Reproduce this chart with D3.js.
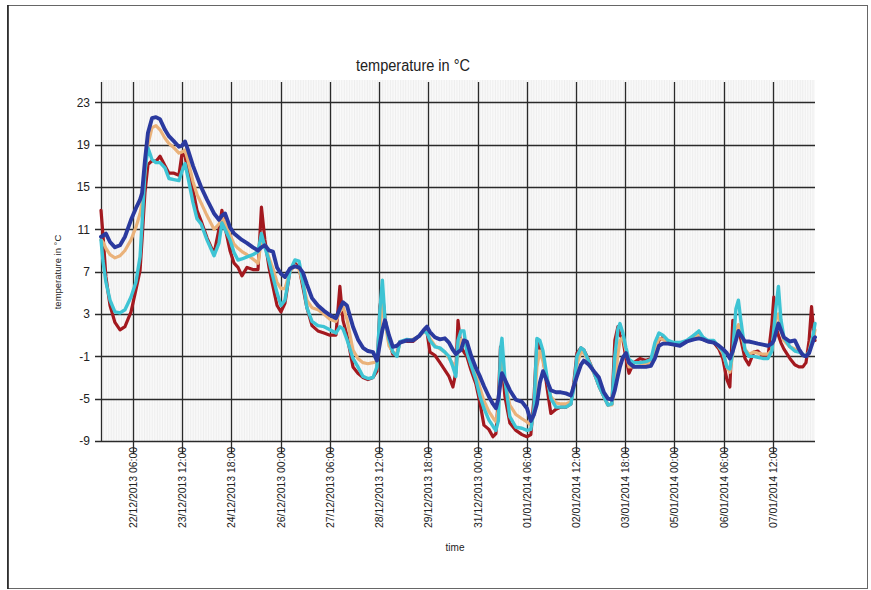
<!DOCTYPE html>
<html>
<head>
<meta charset="utf-8">
<script src="https://cdn.jsdelivr.net/npm/d3@7"></script>
<style>
    body { margin: 0; background: #fff; }
    svg text { font-family: "Liberation Sans Narrow", "Arial Narrow", "Liberation Sans", sans-serif; fill: #222; }
</style>
</head>
<body>
<div id="chart"></div>
<script>
// Time axis: elapsed hours since the first reading
const startTime = "21/12/2013 10:30";
const endHour = 435.2;
const tickLabels = ["22/12/2013 06:00", "23/12/2013 12:00", "24/12/2013 18:00", "26/12/2013 00:00",
    "27/12/2013 06:00", "28/12/2013 12:00", "29/12/2013 18:00", "31/12/2013 00:00",
    "01/01/2014 06:00", "02/01/2014 12:00", "03/01/2014 18:00", "05/01/2014 00:00",
    "06/01/2014 06:00", "07/01/2014 12:00"];
const yTicks = [23, 19, 15, 11, 7, 3, -1, -5, -9];

const hours = [0, 1.2, 3.0, 5.5, 8.5, 11.6, 14.6, 18.3, 21.3, 23.8, 25.0, 26.8, 28.6, 31.1, 33.5, 36.0,
    39.0, 41.4, 44.5, 47.5, 49.4, 51.2, 53.0, 56.1, 58.5, 61.0, 64.6, 68.9, 71.9, 73.7, 75.6, 78.6,
    81.1, 83.5, 85.9, 89.0, 92.6, 95.7, 97.8, 99.9, 102.4, 104.8, 107.3, 109.7, 112.1, 115.2, 118.2,
    120.7, 123.1, 125.5, 128.6, 132.2, 135.9, 139.5, 143.2, 145.6, 147.5, 149.9, 153.6, 156.6, 159.7,
    162.7, 165.8, 168.2, 170.0, 171.5, 173.1, 175.5, 177.9, 180.4, 182.2, 186.5, 190.1, 193.8, 196.8,
    198.7, 200.5, 203.5, 206.6, 209.6, 212.1, 214.5, 216.3, 217.6, 219.4, 221.2, 223.0, 225.5, 228.5,
    231.0, 233.4, 236.4, 238.9, 240.7, 242.2, 243.5, 244.4, 246.2, 249.2, 252.9, 256.6, 259.6, 262.0,
    263.9, 265.7, 267.5, 269.4, 271.8, 274.2, 277.3, 280.3, 283.4, 286.4, 288.2, 290.1, 292.5, 294.3,
    297.4, 300.4, 303.5, 306.5, 309.0, 311.4, 313.2, 315.1, 316.3, 318.1, 320.0, 321.8, 324.8, 328.5,
    332.1, 335.2, 337.6, 340.1, 342.5, 345.6, 349.2, 352.9, 357.1, 361.4, 364.4, 366.9, 369.9, 373.5,
    376.6, 379.0, 381.5, 383.3, 385.1, 387.0, 388.5, 390.0, 392.5, 394.9, 397.9, 400.4, 403.4, 406.5,
    408.9, 410.1, 411.3, 412.9, 414.4, 416.2, 419.9, 422.9, 425.4, 427.8, 429.7, 431.6, 433.1, 434.6, 435.2];

const sensorRed = [12.8, 10.5, 6.5, 3.8, 2.2, 1.5, 1.8, 3.2, 5.3, 7.1, 10.0, 14.5, 17.1, 17.5, 17.4, 17.9,
    17.0, 16.3, 16.3, 16.1, 18.2, 17.9, 16.5, 14.7, 12.8, 11.8, 10.2, 8.7, 11.0, 12.8, 11.2, 9.0,
    7.8, 7.4, 6.6, 7.4, 7.2, 7.2, 13.1, 10.0, 7.4, 5.6, 3.8, 3.2, 4.0, 7.1, 7.8,
    7.4, 5.5, 3.6, 1.9, 1.4, 1.2, 1.0, 1.0, 5.6, 2.4, 1.0, -2.0, -2.6, -3.0,
    -3.2, -3.0, -2.4, 3.7, 5.0, 2.6, 0.4, -0.8, -0.8, 0.4, 0.4, 0.4, 0.9, 1.4,
    1.3, -0.6, -0.9, -1.6, -2.3, -2.9, -3.9, -2.5, 2.4, -0.1, -0.6, -1.0, -2.3, -3.6,
    -5.4, -7.5, -7.9, -8.6, -8.3, -5.1, -0.1, -1.5, -4.8, -7.3, -8.0, -8.4, -8.6, -8.4,
    -5.0, 0.5, -0.3, -1.0, -3.9, -6.4, -6.0, -5.8, -5.8, -5.5, -3.5, -0.7, -0.2, -0.4,
    -1.4, -2.5, -3.8, -4.8, -5.6, -5.5, 0.5, 1.8, 1.0, 0.6, -1.2, -2.6, -1.6, -1.2,
    -1.4, -1.2, -0.5, 0.5, 0.8, 0.3, 0.2, 0.1, 0.4, 0.8, 1.1, 0.6, 0.4, 0.3,
    -0.3, -1.2, -3.2, -3.9, 2.4, 1.0, 1.4, 0.6, -1.2, -1.8, -0.6, -0.5, -1.0, -1.1,
    2.0, 4.6, 1.8, 1.0, 0.3, -0.3, -1.2, -1.8, -2.0, -2.0, -1.6, 0.5, 3.7, 0.8, 0.5];

const sensorTan = [10.0, 9.8, 9.2, 8.6, 8.3, 8.5, 9.0, 10.0, 11.2, 12.5, 13.5, 16.5, 19.0, 20.6, 20.8, 20.4,
    19.6, 19.1, 18.7, 18.2, 18.3, 18.5, 17.5, 15.5, 14.3, 13.5, 12.3, 11.0, 11.5, 12.2, 11.6, 10.5,
    9.6, 9.2, 8.9, 8.6, 8.2, 7.8, 10.0, 9.5, 8.3, 7.3, 6.0, 5.4, 5.4, 7.0, 7.6,
    7.2, 5.9, 4.3, 3.6, 3.4, 3.0, 2.5, 2.3, 3.2, 3.7, 2.5, -0.4, -1.2, -1.6,
    -1.7, -1.6, -1.5, 1.5, 4.0, 2.3, 0.0, -0.6, -0.8, 0.3, 0.5, 0.6, 0.9, 1.3,
    1.3, 0.7, 0.0, -0.3, -0.6, -1.2, -1.7, -2.5, -0.5, 0.6, 0.5, -0.3, -1.8, -2.6,
    -4.0, -5.2, -6.2, -6.8, -7.2, -6.0, -2.5, -1.5, -3.3, -5.6, -6.5, -6.9, -7.2, -7.5,
    -6.5, -2.0, -0.5, -1.5, -3.0, -4.8, -5.4, -5.5, -5.5, -5.3, -4.0, -1.8, -0.6, -0.7,
    -1.5, -2.6, -3.6, -4.8, -5.6, -5.6, -3.8, -0.8, 0.5, 0.8, -0.5, -2.0, -2.0, -1.9,
    -1.7, -1.6, -0.4, 0.7, 0.6, 0.3, 0.2, 0.2, 0.4, 0.8, 1.0, 0.7, 0.4, 0.4,
    -0.1, -0.7, -2.0, -2.5, -0.8, 1.5, 2.0, 1.2, -0.3, -0.8, -0.6, -0.7, -0.8, -0.8,
    -0.4, 0.6, 2.5, 3.0, 1.5, 0.5, -0.1, -0.3, -0.5, -0.8, -1.0, -0.6, 0.5, 1.0, 1.5];

const sensorCyan = [10.0, 8.0, 6.0, 4.3, 3.2, 3.1, 3.4, 4.6, 6.0, 8.4, 11.5, 16.5, 18.7, 17.6, 17.3, 17.3,
    16.8, 15.8, 15.7, 15.6, 16.5, 17.2, 15.9, 13.5, 12.0, 11.5, 10.0, 8.5, 9.7, 11.6, 11.0, 10.0,
    8.8, 8.1, 8.2, 8.4, 8.6, 8.9, 10.6, 9.3, 8.0, 6.5, 5.0, 3.8, 4.3, 7.1, 8.1,
    8.0, 6.0, 3.6, 2.3, 1.9, 1.8, 1.5, 1.2, 1.8, 1.6, 0.6, -1.2, -2.0, -2.9,
    -3.1, -3.0, -2.0, 3.4, 6.2, 2.5, 0.6, -0.6, -1.0, 0.4, 0.6, 0.5, 0.9, 1.4,
    1.2, 0.5, -0.1, -0.2, -0.6, -1.0, -2.0, -2.9, 0.5, 1.4, 1.4, -0.6, -1.8, -3.2,
    -4.8, -5.9, -7.0, -7.6, -8.0, -7.1, -0.4, 0.7, -3.2, -6.7, -7.7, -7.8, -8.0, -7.9,
    -6.0, 0.7, 0.5, -0.5, -2.9, -5.0, -5.8, -5.8, -5.8, -5.5, -4.0, -1.0, -0.2, -0.4,
    -1.5, -2.5, -3.8, -4.8, -5.6, -5.5, -1.0, 1.6, 2.1, 1.2, -0.2, -1.3, -1.6, -1.6,
    -1.5, -1.3, 0.3, 1.2, 1.0, 0.5, 0.3, 0.3, 0.5, 1.0, 1.4, 0.8, 0.5, 0.5,
    -0.1, -0.5, -2.0, -2.2, -0.5, 3.5, 4.3, 2.4, -0.4, -1.0, -1.0, -1.1, -1.2, -1.2,
    -0.5, 1.5, 3.5, 5.6, 2.5, 0.8, -0.1, -0.5, -0.6, -0.8, -1.0, -0.6, 0.2, 1.5, 2.1];

const sensorBlue = [10.3, 10.4, 10.6, 9.8, 9.3, 9.5, 10.3, 11.9, 13.0, 13.8, 14.4, 17.5, 20.1, 21.5, 21.6, 21.4,
    20.4, 19.8, 19.3, 18.8, 18.9, 19.3, 18.5, 17.0, 16.0, 15.0, 13.8, 12.5, 11.9, 12.3, 12.5, 11.2,
    10.6, 10.3, 10.0, 9.7, 9.3, 9.0, 9.3, 9.5, 9.0, 8.9, 7.4, 6.8, 6.5, 7.3, 7.5,
    7.4, 6.9, 5.8, 4.5, 3.8, 3.3, 2.9, 2.6, 3.5, 4.1, 3.8, 1.8, 0.6, -0.2,
    -0.5, -0.6, -1.4, 0.2, 1.5, 2.4, 1.0, -0.1, 0.0, 0.3, 0.5, 0.5, 0.9, 1.5,
    1.8, 1.3, 0.8, 0.6, 0.7, 0.3, -0.4, -0.8, -0.6, -0.4, 0.5, 0.4, -0.9, -2.1,
    -2.9, -3.8, -4.8, -5.5, -5.9, -5.0, -3.5, -2.6, -3.2, -4.2, -5.1, -5.3, -5.9, -7.1,
    -6.5, -5.5, -3.5, -2.4, -3.3, -4.2, -4.4, -4.4, -4.5, -4.7, -3.8, -2.9, -1.8, -1.4,
    -1.8, -2.4, -3.0, -4.4, -5.0, -5.1, -4.2, -2.8, -2.0, -1.1, -0.7, -1.6, -2.0, -2.0,
    -2.0, -1.9, -1.2, 0.0, 0.2, 0.2, 0.1, 0.0, 0.4, 0.6, 0.7, 0.6, 0.4, 0.3,
    0.0, -0.3, -0.7, -1.2, -0.5, 0.5, 1.4, 1.0, 0.4, 0.4, 0.3, 0.2, 0.1, 0.0,
    0.2, 0.5, 1.2, 2.1, 1.5, 0.8, 0.4, 0.5, -0.3, -0.9, -1.0, -0.7, 0.0, 0.7, 0.8];

const seriesNames = ["sensorRed", "sensorTan", "sensorCyan", "sensorBlue"];
const seriesValues = [sensorRed, sensorTan, sensorCyan, sensorBlue];
const seriesColors = ["#a3191f", "#eab27a", "#3ec4d4", "#2b3a9f"];
const seriesWidths = [3.2, 3.2, 3.4, 3.9];

function createLineChart() {
    const width = 871;
    const height = 590;
    const margin = { top: 80, right: 56, bottom: 149, left: 101 };
    const innerW = width - margin.left - margin.right;

    const parseTime = d3.timeParse("%d/%m/%Y %H:%M");
    const t0 = parseTime(startTime);
    const toDate = h => new Date(t0.getTime() + h * 3600 * 1000);

    const svg = d3.select("#chart").append("svg")
        .attr("width", width)
        .attr("height", height);

    // outer frame
    svg.append("rect")
        .attr("x", 7.5).attr("y", 5.5)
        .attr("width", 860).attr("height", 583)
        .style("fill", "none")
        .style("stroke", "#666")
        .style("stroke-width", 1);
    svg.append("line")
        .attr("x1", 8).attr("x2", 8).attr("y1", 5).attr("y2", 589)
        .style("stroke", "#222").style("stroke-width", 1.6);

    const x = d3.scaleTime()
        .domain([t0, toDate(endHour)])
        .range([margin.left, margin.left + innerW]);

    const y = d3.scaleLinear()
        .domain([-9, 23])
        .range([441, 102.3]);

    // minor hourly grid
    const minor = d3.timeHour.every(1).range(t0, toDate(endHour));
    svg.append("g")
        .selectAll("line")
        .data(minor)
        .enter().append("line")
        .attr("x1", d => x(d)).attr("x2", d => x(d))
        .attr("y1", margin.top).attr("y2", y(-9))
        .style("stroke", "#e6e6e6")
        .style("stroke-width", 0.7);

    // major vertical grid + tick marks
    const tickDates = tickLabels.map(parseTime);
    svg.append("g")
        .selectAll("line")
        .data(tickDates)
        .enter().append("line")
        .attr("x1", d => Math.round(x(d)) + 0.5).attr("x2", d => Math.round(x(d)) + 0.5)
        .attr("y1", 82).attr("y2", 454)
        .style("stroke", "#2a2a2a")
        .style("stroke-width", 1.3);

    // horizontal grid + y ticks
    svg.append("g")
        .selectAll("line")
        .data(yTicks)
        .enter().append("line")
        .attr("x1", 95).attr("x2", margin.left + innerW)
        .attr("y1", d => Math.round(y(d)) + 0.5).attr("y2", d => Math.round(y(d)) + 0.5)
        .style("stroke", "#2a2a2a")
        .style("stroke-width", 1.3);

    // y axis line
    svg.append("line")
        .attr("x1", margin.left + 0.5).attr("x2", margin.left + 0.5)
        .attr("y1", 82).attr("y2", y(-9))
        .style("stroke", "#2a2a2a")
        .style("stroke-width", 1.3);

    svg.append("g")
        .selectAll("text")
        .data(yTicks)
        .enter().append("text")
        .attr("x", 90)
        .attr("y", d => y(d))
        .attr("dy", "0.35em")
        .attr("text-anchor", "end")
        .style("font-size", "12px")
        .text(d => d);

    // x tick labels, rotated (condensed like the original)
    svg.append("g")
        .selectAll("text")
        .data(tickDates)
        .enter().append("text")
        .attr("transform", d => `translate(${Math.round(x(d)) + 0.5}, 447) rotate(-90)`)
        .attr("dy", "0.36em")
        .attr("text-anchor", "end")
        .attr("textLength", 81)
        .attr("lengthAdjust", "spacingAndGlyphs")
        .style("font-size", "11px")
        .text((d, i) => tickLabels[i]);

    // lines
    const line = d3.line()
        .x((d, i) => x(toDate(hours[i])))
        .y(d => y(d))
        .curve(d3.curveLinear);

    svg.append("g")
        .selectAll("path")
        .data(seriesValues)
        .enter().append("path")
        .attr("class", (d, i) => seriesNames[i])
        .attr("d", line)
        .style("fill", "none")
        .style("stroke", (d, i) => seriesColors[i])
        .style("stroke-width", (d, i) => seriesWidths[i])
        .style("stroke-linejoin", "round")
        .style("stroke-linecap", "round");

    // titles
    svg.append("text")
        .attr("x", 413).attr("y", 71)
        .attr("text-anchor", "middle")
        .attr("textLength", 114)
        .attr("lengthAdjust", "spacingAndGlyphs")
        .style("font-size", "16px")
        .text("temperature in °C");

    svg.append("text")
        .attr("transform", "translate(61, 272) rotate(-90)")
        .attr("text-anchor", "middle")
        .style("font-size", "9.5px")
        .text("temperature in °C");

    svg.append("text")
        .attr("x", 455).attr("y", 551)
        .attr("text-anchor", "middle")
        .style("font-size", "10px")
        .text("time");
}

createLineChart();
</script>
</body>
</html>
